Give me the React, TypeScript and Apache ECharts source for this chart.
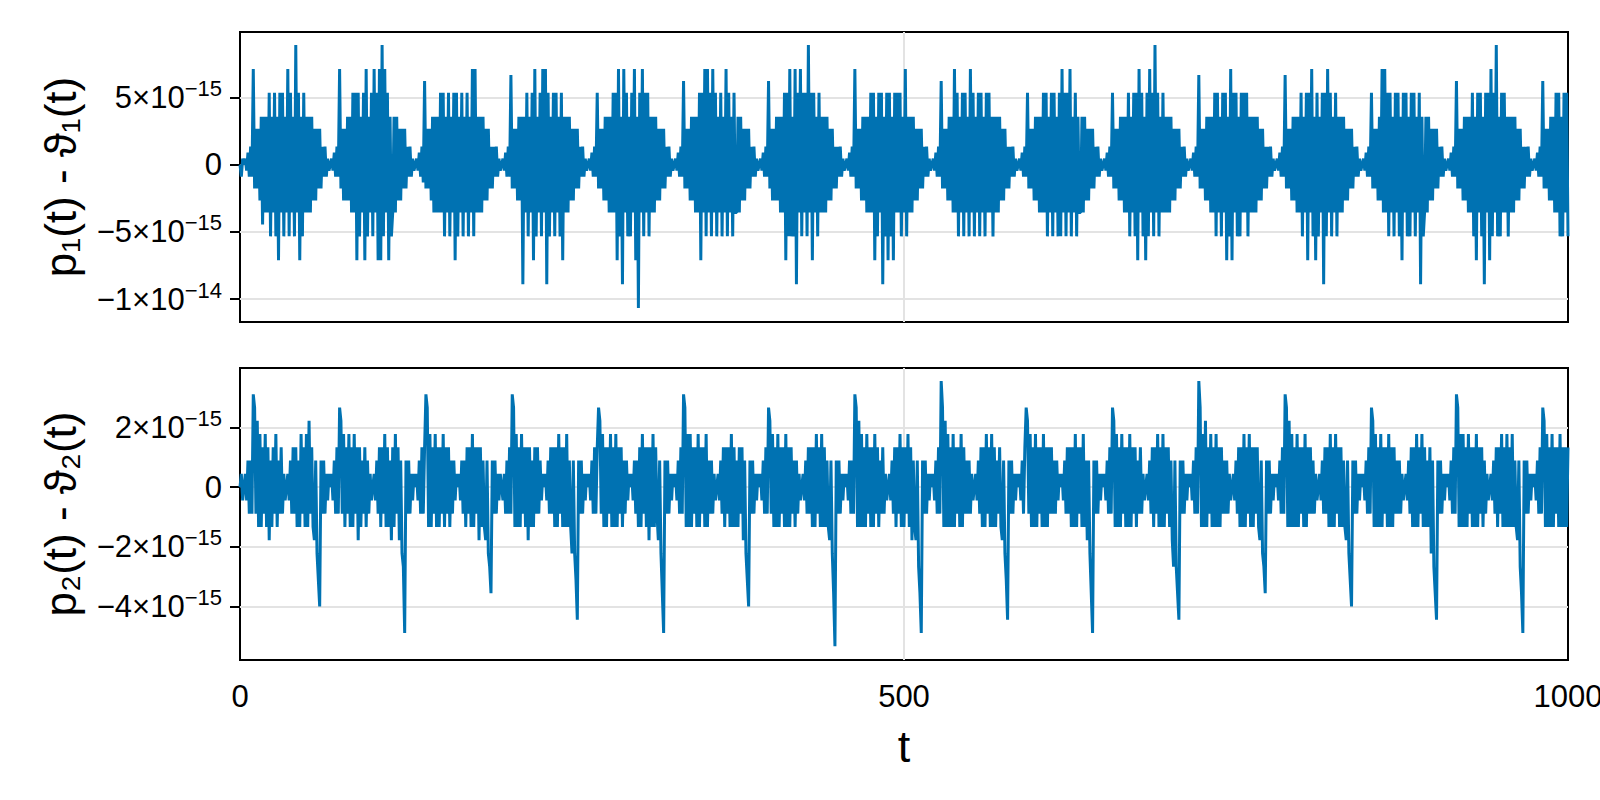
import React, { useEffect, useRef } from "react";
import * as echarts from "echarts";

// Values are written in multiples of Q = 2^-51 (about 4.44e-16); t step is 1.
const Q = Math.pow(2, -51);
const UNIT = 1e-15; // plotted in units of 1e-15
const DT = 1;

const X_TICKS = [0, 500, 1000];
const X_TICK_LABELS = ["0", "500", "1000"];

const TOP_Y_MIN = -11.69;
const TOP_Y_MAX = 9.85;
const TOP_Y_TICKS = [-10, -5, 0, 5];
const TOP_Y_LABELS = [["−1×10", "−14"], ["−5×10", "−15"], ["0", ""], ["5×10", "−15"]];

const BOT_Y_MIN = -5.79;
const BOT_Y_MAX = 3.99;
const BOT_Y_TICKS = [-4, -2, 0, 2];
const BOT_Y_LABELS = [["−4×10", "−15"], ["−2×10", "−15"], ["0", ""], ["2×10", "−15"]];

const TOP_LABEL = "p₁(t) - ϑ₁(t)";
const BOT_LABEL = "p₂(t) - ϑ₂(t)";
const X_LABEL = "t";

// ---------- p1 - theta1 (top), one array per beat ----------
const TOP_LEAD = [0, -2, 1];
const TOP_BEAT_00 = [0,1,-1,2,-2,3,-2,16,-4,6,-4,6, -6,8,-10,8,-8,8,-8,12,
  -12,8,-8,12,-12,8,-16,12,-8,12,-12,8,-8,16,-12,12,-8,8,-12,20,-8,12,-16,8,-12,12,-8,8,
  -8,8,-8,8,-6,6,-6,6,-4,6,-4,3,-2,3,-2,1,-1];
const TOP_BEAT_01 = [0,1,-1,2,-2,3,-2,16,-4,6,-6,6, -6,8,-6,8,-8,12,-8,12,
  -16,12,-12,8,-8,12,-16,16,-12,8,-8,12,-12,16,-8,12,-16,16,-16,20,-12,16,-8,12,-16,8,-12,
  -8,8,-8,8,-6,6,-6,6,-4,6,-4,3,-2,3,-2,1,-1];
const TOP_BEAT_02 = [0,1,-1,2,-2,3,-3,14,-4,6,-4,6, -6,8,-8,8,-8,8,-8,12,
  -8,12,-12,8,-8,12,-12,8,-8,12,-16,12,-12,8,-8,12,-12,8,-8,12,-12,8,-8,16,-12,16,-8,8,
  -8,8,-8,8,-6,6,-6,6,-4,3,-4,3,-2,3,-2,1,-1];
const TOP_BEAT_03 = [0,1,-1,2,-2,3,-2,15,-4,6,-4,6, -6,8,-6,8,-20,8,-8,12,
  -12,8,-8,12,-16,16,-12,8,-8,12,-12,16,-8,16,-20,12,-12,8,-8,12,-12,12,-8,8,-12,12,-16,8,
  -8,8,-8,8,-6,6,-6,6,-4,6,-4,3,-2,3,-2,1,-1];
const TOP_BEAT_04 = [0,1,-1,2,-2,3,-2,12,-4,6,-4,6, -6,8,-6,8,-8,8,-8,12,
  -8,12,-16,16,-12,8,-20,16,-8,12,-12,8,-12,12,-8,16,-16,8,-24,12,-8,16,-12,12,-8,12,-12,8,
  -8,8,-8,8,-6,6,-6,6,-4,6,-4,3,-2,3,-2,1,-1];
const TOP_BEAT_05 = [0,1,-1,2,-2,3,-2,14,-4,6,-4,6, -6,8,-6,8,-8,8,-8,12,
  -16,12,-8,16,-12,16,-8,12,-12,16,-8,12,-12,8,-8,12,-12,8,-8,16,-12,12,-8,8,-12,12,-8,
  -8,8,-8,8,-6,6,-6,6,-4,6,-4,3,-2,3,-2,1,-1];
const TOP_BEAT_06 = [0,1,-1,2,-2,3,-2,14,-4,6,-6,6, -6,8,-6,8,-8,8,-8,12,
  -16,12,-12,16,-12,8,-12,16,-20,12,-8,16,-12,12,-8,12,-12,20,-8,12,-16,12,-8,8,-12,12,-8,8,
  -8,8,-8,8,-6,6,-6,6,-4,3,-4,3,-2,3,-2,1,-1];
const TOP_BEAT_07 = [0,1,-1,2,-2,3,-2,16,-4,6,-4,6, -6,8,-6,8,-8,8,-8,12,
  -8,12,-16,8,-12,12,-8,12,-20,8,-12,12,-16,12,-12,8,-16,12,-8,12,-8,12,-12,8,-8,16,-12,8,
  -8,8,-8,8,-6,6,-6,6,-4,6,-4,3,-2,3,-2,1,-1];
const TOP_BEAT_08 = [0,1,-1,2,-2,3,-2,14,-4,6,-4,6, -6,8,-6,8,-8,16,-8,12,
  -12,8,-8,12,-12,12,-8,8,-12,16,-8,12,-12,8,-8,12,-12,12,-8,8,-12,12,-8,12,-8,8,-12,8,
  -8,8,-8,8,-6,6,-6,6,-4,3,-4,3,-2,3,-2,1,-1];
const TOP_BEAT_09 = [0,1,-1,2,-2,3,-2,12,-4,6,-4,6, -6,8,-6,8,-8,8,-8,12,
  -8,12,-12,8,-8,12,-12,12,-8,8,-12,12,-12,16,-8,12,-12,12,-8,16,-12,8,-8,12,-12,8,-8,
  -8,8,-8,8,-6,6,-6,6,-4,6,-4,3,-2,3,-2,1,-1];
const TOP_BEAT_10 = [0,1,-1,2,-2,3,-2,12,-4,6,-4,6, -6,8,-6,8,-8,8,-8,12,
  -12,8,-8,12,-12,12,-16,16,-8,12,-12,8,-16,12,-12,16,-8,12,-12,20,-8,12,-12,8,-8,12,-8,8,
  -8,8,-8,8,-6,6,-6,6,-4,6,-4,3,-2,3,-2,1,-1];
const TOP_BEAT_11 = [0,1,-1,2,-2,3,-2,15,-4,6,-4,6, -6,8,-6,8,-8,8,-8,12,
  -12,12,-8,8,-12,12,-8,12,-16,8,-12,16,-16,12,-8,12,-12,8,-12,12,-8,12,-8,12,-12,8,-8,8,
  -8,8,-8,8,-6,6,-6,6,-4,3,-4,3,-2,3,-2,1,-1];
const TOP_BEAT_12 = [0,1,-1,2,-2,3,-2,15,-4,6,-4,6, -6,8,-6,8,-8,8,-8,12,
  -12,8,-8,12,-16,12,-8,16,-12,8,-16,12,-12,8,-8,12,-20,12,-12,16,-8,12,-12,8,-8,12,-12,8,
  -8,8,-8,8,-6,6,-6,6,-4,6,-4,3,-2,3,-2,1,-1];
const TOP_BEAT_13 = [0,1,-1,2,-2,3,-2,12,-4,6,-4,6, -6,8,-6,16,-8,16,-8,12,
  -12,12,-8,8,-12,12,-8,12,-12,8,-16,12,-8,12,-12,8,-12,12,-8,12,-12,8,-8,12,-20,8,-12,
  -8,8,-8,8,-6,6,-6,6,-4,6,-4,3,-2,3,-2,1,-1];
const TOP_BEAT_14 = [0,1,-1,2,-2,3,-2,14,-4,6,-4,6, -6,8,-6,8,-8,8,-8,12,
  -12,8,-16,12,-8,12,-12,8,-20,12,-8,12,-16,16,-12,12,-8,20,-12,8,-12,12,-8,12,-8,8,-12,8,
  -8,8,-8,8,-6,6,-6,6,-4,3,-4,3,-2,3,-2,1,-1];
const TOP_BEAT_15 = [0,1,-1,2,-2,3,-2,14,-4,6,-4,6, -6,8,-6,8,-8,12,-8,12,
  -12,8,-12,12,-8,12,-12];

// ---------- p2 - theta2 (bottom), one array per beat ----------
const BOT_LEAD = [0, 1, -1];
const BOT_BEAT_00 = [0,1,-1,2,-2,2,-2,7,6,-2,5,-3,4,-3,3,-2,4,-3,3,-4,2,-3,3,-2,4,-3,2,-2,3,-2,1,-1,
  0,1,-1,2,-2,3,-2,3,-3,2,-3,4,-2,3,-3,4,-3,5,-2,3,-3,-4,2,-5,-7,-9,2,-2,2,-2,1,-1,1];
const BOT_BEAT_01 = [0,1,-1,2,-2,3,-2,6,5,-2,4,-3,3,-2,4,-3,3,-3,4,-2,3,-4,3,-3,2,-2,3,-3,2,-2,1,-1,
  0,1,-1,2,-2,3,-3,3,-2,4,-3,3,-3,2,-4,3,-3,4,-2,3,-4,2,-5,-6,-11,2,-2,2,-2,1,-1,1];
const BOT_BEAT_02 = [0,1,-1,2,-2,3,-2,3,7,6,-3,4,-3,3,-2,4,-3,3,-3,3,-2,4,-3,3,-2,3,-3,2,-2,2,-1,1,
  0,1,-1,2,-2,2,-3,3,-2,3,-3,4,-3,3,-2,3,-4,3,-3,2,-3,-4,2,-5,-6,-8,2,-2,2,-2,1,-1,1];
const BOT_BEAT_03 = [0,-1,1,-2,2,-2,3,-2,7,6,-3,4,-3,3,-3,4,-2,3,-3,3,-4,3,-3,2,-3,3,-2,3,-2,2,-1,1,
  0,1,-1,2,-2,3,-2,3,-3,3,-3,4,-2,3,-3,3,-3,4,-3,2,-3,-5,2,-5,-7,-10,2,-2,2,-2,1,-1,1];
const BOT_BEAT_04 = [0,1,-1,2,-2,3,-2,3,6,5,-2,4,-3,3,-3,3,-2,4,-3,3,-3,4,-3,3,-2,3,-3,2,-2,2,-1,1,
  0,1,-1,2,-2,2,-3,3,-3,4,-2,3,-3,3,-4,3,-3,4,-3,3,-2,-4,2,-5,-8,-11,2,-2,2,-2,1,-1,1];
const BOT_BEAT_05 = [0,1,-1,2,-2,3,-2,7,6,-3,4,-3,4,-3,3,-2,3,-3,4,-3,3,-2,3,-3,4,-3,2,-2,2,-2,1,-1,
  0,1,-1,2,-2,3,-3,3,-2,3,-3,4,-3,3,-3,2,-3,3,-2,3,-4,2,-5,-7,-9,2,-2,2,-2,1,-1,1];
const BOT_BEAT_06 = [0,1,-1,2,-2,3,-2,6,5,-2,4,-3,3,-3,4,-3,3,-2,3,-3,4,-3,3,-3,3,-2,2,-3,2,-2,1,-1,
  0,1,-1,2,-2,3,-2,3,-3,3,-3,4,-2,3,-3,4,-3,3,-3,2,-3,-4,2,-5,-8,-12,2,-2,2,-2,1,-1,1];
const BOT_BEAT_07 = [0,1,-1,2,-2,2,-2,7,6,-3,5,-3,4,-3,3,-3,4,-2,3,-3,3,-3,4,-2,3,-3,2,-2,3,-2,1,-1,
  0,1,-1,2,-2,3,-3,3,-2,4,-3,3,-3,3,-2,4,-3,3,-4,2,-3,-4,2,-6,-8,-11,2,-2,2,-2,1,-1,1];
const BOT_BEAT_08 = [0,1,-1,2,-2,3,-2,8,6,-3,5,-3,4,-3,3,-3,4,-3,3,-2,3,-3,4,-3,3,-2,2,-2,2,-2,1,-1,
  0,1,-1,2,-2,3,-3,3,-3,4,-2,3,-3,4,-3,3,-3,2,-2,3,-3,-4,2,-5,-7,-10,2,-2,2,-2,1,-1,1];
const BOT_BEAT_09 = [0,1,-1,2,-2,3,6,5,-2,4,-3,3,-3,4,-3,3,-2,3,-3,4,-3,3,-3,3,-2,3,-2,2,-2,2,-1,1,
  0,1,-1,2,-2,3,-2,3,-3,3,-3,4,-3,3,-2,3,-3,4,-3,2,-4,2,-5,-8,-11,2,-2,2,-2,1,-1,1];
const BOT_BEAT_10 = [0,1,-1,2,-2,3,-2,6,5,-3,4,-3,3,-3,4,-2,3,-3,3,-3,4,-3,3,-2,3,-3,2,-2,3,-2,1,-1,
  0,1,-1,2,-2,3,-3,3,-2,4,-3,3,-3,4,-3,3,-2,3,-3,2,-4,-6,2,-6,-8,-10,2,-2,2,-2,1,-1,1];
const BOT_BEAT_11 = [0,1,-1,2,-2,3,-2,8,6,-3,4,-3,5,-3,3,-2,4,-3,3,-3,4,-3,3,-3,3,-2,2,-2,2,-2,1,-1,
  0,1,-1,2,-2,3,-3,3,-3,4,-3,3,-2,4,-3,3,-3,3,-2,3,-3,-4,2,-5,-6,-8,2,-2,2,-2,1,-1,1];
const BOT_BEAT_12 = [0,1,-1,2,-2,3,-2,7,6,-3,5,-3,4,-3,3,-3,4,-3,3,-2,3,-3,4,-3,3,-2,3,-2,2,-2,1,-1,
  0,1,-1,2,-2,3,-2,3,-3,4,-3,3,-3,4,-2,3,-3,3,-3,2,-3,-4,2,-5,-7,-9,2,-2,2,-2,1,-1,1];
const BOT_BEAT_13 = [0,1,-1,2,-2,3,-2,6,5,-3,4,-3,3,-3,4,-3,3,-2,3,-3,4,-3,3,-3,3,-2,2,-2,2,-2,1,-1,
  0,1,-1,2,-2,3,-3,3,-3,4,-3,3,-2,4,-3,3,-3,2,-3,3,-5,2,-6,-8,-10,2,-2,2,-2,1,-1,1];
const BOT_BEAT_14 = [0,1,-1,2,-2,3,-2,7,6,-3,4,-3,4,-3,3,-3,4,-2,3,-3,3,-3,4,-3,3,-2,3,-3,2,-2,1,-1,
  0,1,-1,2,-2,3,-3,3,-2,4,-3,3,-3,4,-3,3,-3,4,-3,2,-3,-4,2,-6,-8,-11,2,-2,2,-2,1,-1,1];
const BOT_BEAT_15 = [0,1,-1,2,-2,3,-2,6,5,-3,4,-3,3,-3,4,-3,3,-2,3,-3,4,-3,3,-3,3,-3,3];

const TOP_BEATS = [TOP_LEAD, TOP_BEAT_00, TOP_BEAT_01, TOP_BEAT_02, TOP_BEAT_03, TOP_BEAT_04,
  TOP_BEAT_05, TOP_BEAT_06, TOP_BEAT_07, TOP_BEAT_08, TOP_BEAT_09, TOP_BEAT_10, TOP_BEAT_11,
  TOP_BEAT_12, TOP_BEAT_13, TOP_BEAT_14, TOP_BEAT_15];
const BOT_BEATS = [BOT_LEAD, BOT_BEAT_00, BOT_BEAT_01, BOT_BEAT_02, BOT_BEAT_03, BOT_BEAT_04,
  BOT_BEAT_05, BOT_BEAT_06, BOT_BEAT_07, BOT_BEAT_08, BOT_BEAT_09, BOT_BEAT_10, BOT_BEAT_11,
  BOT_BEAT_12, BOT_BEAT_13, BOT_BEAT_14, BOT_BEAT_15];

const FONT = "'Liberation Sans', Arial, Helvetica, sans-serif";
const BLUE = "#0072b2";
const GRID_COLOR = "#e3e3e3";

function toSeries(beats: number[][]) {
  const flat = ([] as number[]).concat(...beats);
  return flat.map((v, i) => [i * DT, (v * Q) / UNIT]);
}

function nearestIndex(ticks: number[], value: number) {
  let best = 0;
  for (let j = 1; j < ticks.length; j++) {
    if (Math.abs(ticks[j] - value) < Math.abs(ticks[best] - value)) best = j;
  }
  return best;
}

function makeFormatter(ticks: number[], labels: string[][]) {
  return (value: number) => {
    const [m, e] = labels[nearestIndex(ticks, value)];
    return e ? `{m|${m}}{e|${e}}` : `{m|${m}}`;
  };
}

const tickStyle = { show: true, length: 10, inside: false, lineStyle: { color: "#000", width: 2 } };
const richLabel = {
  m: { fontSize: 31, fontFamily: FONT, color: "#000", lineHeight: 40 },
  e: { fontSize: 22, fontFamily: FONT, color: "#000", lineHeight: 22, verticalAlign: "top" },
};

export default function App() {
  const ref = useRef<HTMLDivElement>(null);
  useEffect(() => {
    if (!ref.current) return;
    const chart = echarts.init(ref.current, null, { renderer: "svg" });
    const grids = [
      { left: 240, top: 32, width: 1328, height: 290 },
      { left: 240, top: 368, width: 1328, height: 292 },
    ].map((g) => ({
      ...g,
      show: true,
      borderColor: "#000",
      borderWidth: 2,
      backgroundColor: "transparent",
      containLabel: false,
      outerBoundsMode: "none",
    }));

    const xAxisBase = (gridIndex: number, showLabel: boolean) => ({
      type: "value",
      gridIndex,
      min: X_TICKS[0],
      max: X_TICKS[X_TICKS.length - 1],
      interval: 500,
      axisLine: { show: false },
      axisTick: tickStyle,
      axisLabel: {
        show: showLabel,
        fontSize: 31,
        fontFamily: FONT,
        color: "#000",
        margin: 21,
        showMinLabel: true,
        showMaxLabel: true,
        formatter: (v: number) => X_TICK_LABELS[nearestIndex(X_TICKS, v)],
      },
      splitLine: { show: true, showMinLine: false, showMaxLine: false, lineStyle: { color: GRID_COLOR, width: 2 } },
    });

    const yAxisBase = (gridIndex: number, min: number, max: number, ticks: number[], labels: string[][]) => ({
      type: "value",
      gridIndex,
      min,
      max,
      axisLine: { show: false },
      axisTick: { ...tickStyle, customValues: ticks },
      axisLabel: {
        show: true,
        customValues: ticks,
        margin: 18,
        formatter: makeFormatter(ticks, labels),
        rich: richLabel,
      },
      splitLine: { show: true, lineStyle: { color: GRID_COLOR, width: 2 } },
    });

    const titleStyle = { fontSize: 44, fontFamily: FONT, fill: "#000", align: "center", verticalAlign: "middle" };

    chart.setOption({
      animation: false,
      backgroundColor: "#ffffff",
      grid: grids,
      xAxis: [xAxisBase(0, false), xAxisBase(1, true)],
      yAxis: [
        yAxisBase(0, TOP_Y_MIN, TOP_Y_MAX, TOP_Y_TICKS, TOP_Y_LABELS),
        yAxisBase(1, BOT_Y_MIN, BOT_Y_MAX, BOT_Y_TICKS, BOT_Y_LABELS),
      ],
      series: [
        {
          type: "line",
          xAxisIndex: 0,
          yAxisIndex: 0,
          data: toSeries(TOP_BEATS),
          showSymbol: false,
          symbol: "none",
          silent: true,
          clip: true,
          lineStyle: { color: BLUE, width: 3, join: "bevel" },
        },
        {
          type: "line",
          xAxisIndex: 1,
          yAxisIndex: 1,
          data: toSeries(BOT_BEATS),
          showSymbol: false,
          symbol: "none",
          silent: true,
          clip: true,
          lineStyle: { color: BLUE, width: 3, join: "bevel" },
        },
      ],
      graphic: [
        { type: "text", x: 60, y: 177, rotation: Math.PI / 2, style: { ...titleStyle, text: TOP_LABEL } },
        { type: "text", x: 60, y: 514, rotation: Math.PI / 2, style: { ...titleStyle, text: BOT_LABEL } },
        { type: "text", x: 904, y: 746, style: { ...titleStyle, fontSize: 45, text: X_LABEL } },
      ],
    });
    return () => chart.dispose();
  }, []);

  return (
    <div
      ref={ref}
      style={{ position: "fixed", left: 0, top: 0, width: 1600, height: 800, background: "#fff" }}
    />
  );
}
